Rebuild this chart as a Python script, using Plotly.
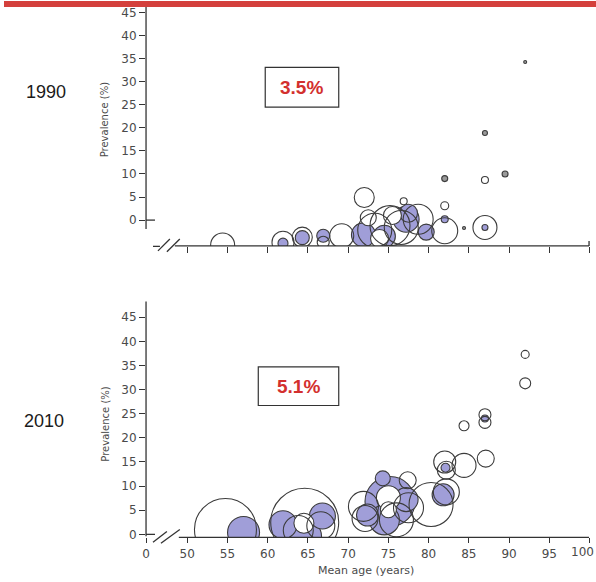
import plotly.graph_objects as go

W, H = 596, 582

# ---------------- data ----------------
# 1990 panel: mean age, prevalence (%), bubble size, group
age_1990 = [54.4, 61.9, 61.9, 64.3, 64.3, 66.9, 66.9, 69.2, 72.0, 71.9, 73.3, 74.5, 73.9,
            75.2, 77.2, 76.6, 78.7, 77.5, 75.5, 72.5, 76.9, 79.7, 82.0, 82.0, 82.0, 82.0,
            84.4, 87.0, 87.0, 87.0, 87.0, 89.5, 92.0]
prev_1990 = [-5.4, -4.8, -5.0, -3.7, -3.8, -3.4, -4.8, -3.4, 4.9, -3.2, -2.2, -3.5, -4.0,
             -1.2, 0.2, -1.6, 0.2, 1.5, 1.0, 0.5, 4.1, -2.6, 9.0, 3.1, 0.2, -2.3,
             -1.7, -1.6, -1.6, 8.7, 18.9, 10.0, 34.3]
size_1990 = [24, 22, 10, 20, 14, 13, 12, 24, 20, 24, 34, 22, 18,
             40, 26, 34, 30, 18, 18, 16, 7, 16, 6, 8, 7, 26,
             3, 24, 6, 7, 5, 6, 3]
group_1990 = ['o', 'o', 'f', 'o', 'f', 'f', 'o', 'o', 'o', 'f', 'o', 'f', 'w',
              'o', 'f', 'o', 'o', 'f', 'w', 'w', 'o', 'f', 'd', 'o', 'f', 'o',
              'd', 'o', 'f', 'o', 'd', 'd', 'd']

# 2010 panel
age_2010 = [54.75, 57.0, 64.6, 61.9, 64.7, 66.8, 64.5, 66.6, 63.8,
            71.9, 72.4, 72.1, 75.2, 74.3, 74.5, 75.0, 75.0, 77.2, 77.4, 76.0, 77.5,
            80.3, 81.8, 82.2, 82.0, 82.2, 82.1, 84.4, 87.1, 84.4, 87.0, 87.0, 87.0,
            92.0, 92.0]
prev_2010 = [1.0, 0.4, 2.5, 2.0, -0.4, 3.8, 2.3, 1.8, 0.8,
             5.8, 4.0, 3.3, 6.8, 11.6, 3.0, 7.6, 5.1, 7.2, 11.2, 3.0, 5.5,
             6.2, 8.2, 8.8, 15.0, 13.3, 13.8, 14.3, 15.7, 22.5, 24.8, 23.2, 24.0,
             31.3, 37.3]
size_2010 = [62, 32, 68, 28, 32, 26, 20, 28, 30,
             30, 22, 26, 50, 15, 30, 24, 16, 24, 17, 34, 30,
             44, 22, 26, 22, 18, 9, 24, 17, 10, 12, 12, 7,
             11, 8]
group_2010 = ['o', 'f', 'o', 'f', 'f', 'f', 'w', 'o', 'o',
              'o', 'f', 'o', 'f', 'f', 'f', 'w', 'w', 'f', 'o', 'o', 'o',
              'o', 'f', 'o', 'o', 'o', 'f', 'o', 'o', 'o', 'o', 'o', 'f',
              'o', 'o']

y_ticks = [0, 5, 10, 15, 20, 25, 30, 35, 40, 45]
x_ticks = [50, 55, 60, 65, 70, 75, 80, 85, 90, 95, 100]
x_zero_pos = 44.88
x_tick_labels = ['0'] + [str(v) for v in x_ticks[:-1]] + ['']

LAV = '#a09ed8'
EDGE = '#3c3c3c'
fill_map = {'f': LAV, 'w': 'white', 'o': 'rgba(255,255,255,0)', 'd': '#9a9a9a'}
rank = {'f': 0, 'w': 1, 'o': 2, 'd': 3}


def ordered(ages, prevs, sizes, groups):
    idx = sorted(range(len(ages)), key=lambda i: (rank[groups[i]], -sizes[i] if groups[i] == 'f' else 0))
    return ([ages[i] for i in idx], [prevs[i] for i in idx],
            [sizes[i] for i in idx], [groups[i] for i in idx])


fig = go.Figure()
for ages, prevs, sizes, groups, xa, ya in [
        (age_1990, prev_1990, size_1990, group_1990, 'x', 'y'),
        (age_2010, prev_2010, size_2010, group_2010, 'x2', 'y2')]:
    a, p, s, g = ordered(ages, prevs, sizes, groups)
    fig.add_trace(go.Scatter(
        x=a, y=p, mode='markers', xaxis=xa, yaxis=ya, cliponaxis=True,
        marker=dict(size=s, sizemode='diameter', color=[fill_map[k] for k in g],
                    line=dict(color=EDGE, width=1.1), opacity=1),
        showlegend=False, hoverinfo='x+y'))


def px(x):
    return x / W


def py(y):
    return 1 - y / H


tickfont = dict(family='DejaVu Sans', size=12, color='#4a4a4a')

fig.update_layout(
    width=W, height=H, margin=dict(l=0, r=0, t=0, b=0),
    paper_bgcolor='white', plot_bgcolor='white',
    xaxis=dict(domain=[px(143), px(590)], range=[x_zero_pos, 100.06], anchor='y',
               tickmode='array', tickvals=x_ticks, showticklabels=False,
               ticks='outside', ticklen=6, tickcolor='#333', tickwidth=1.2,
               showgrid=False, zeroline=False, showline=False),
    yaxis=dict(domain=[py(247), py(6)], range=[-5.59, 46.23], anchor='x',
               tickmode='array', tickvals=y_ticks, tickfont=tickfont,
               ticks='outside', ticklen=6, tickcolor='#333', tickwidth=1.2,
               showgrid=False, zeroline=False, showline=False),
    xaxis2=dict(domain=[px(143), px(590)], range=[x_zero_pos, 100.06], anchor='y2',
                tickmode='array', tickvals=[x_zero_pos] + x_ticks, ticktext=x_tick_labels,
                tickfont=tickfont, ticks='outside', ticklen=5, tickcolor='#333', tickwidth=1.2,
                showgrid=False, zeroline=False, showline=False),
    yaxis2=dict(domain=[py(541), py(303)], range=[-0.62, 48.28], anchor='x2',
                tickmode='array', tickvals=y_ticks, tickfont=tickfont,
                ticks='outside', ticklen=6, tickcolor='#333', tickwidth=1.2,
                showgrid=False, zeroline=False, showline=False),
)

line_style = dict(color='#333333', width=1.3)
shapes = [
    # red band at top
    dict(type='rect', xref='paper', yref='paper', x0=0, x1=1, y0=py(6), y1=1,
         fillcolor='#d4403c', line=dict(width=0)),
    # top panel axis lines
    dict(type='line', xref='paper', yref='paper', x0=px(143), x1=px(143), y0=py(230), y1=py(6), line=line_style),
    dict(type='line', xref='paper', yref='paper', x0=px(143), x1=px(152), y0=py(221), y1=py(221), line=line_style),
    dict(type='line', xref='paper', yref='paper', x0=px(172), x1=px(589), y0=py(247), y1=py(247), line=line_style),
    dict(type='line', xref='paper', yref='paper', x0=px(589), x1=px(589), y0=py(247), y1=py(242), line=line_style),
    dict(type='line', xref='paper', yref='paper', x0=px(150), x1=px(157), y0=py(247.5), y1=py(247.5), line=line_style),
    # top break marks
    dict(type='line', xref='paper', yref='paper', x0=px(155), x1=px(167), y0=py(252), y1=py(240), line=line_style),
    dict(type='line', xref='paper', yref='paper', x0=px(164), x1=px(177), y0=py(253), y1=py(240), line=line_style),
    # bottom panel axis lines
    dict(type='line', xref='paper', yref='paper', x0=px(143), x1=px(143), y0=py(540), y1=py(303), line=line_style),
    dict(type='line', xref='paper', yref='paper', x0=px(143), x1=px(152), y0=py(538), y1=py(538), line=line_style),
    dict(type='line', xref='paper', yref='paper', x0=px(176), x1=px(589), y0=py(541), y1=py(541), line=line_style),
    # bottom break marks
    dict(type='line', xref='paper', yref='paper', x0=px(150), x1=px(164), y0=py(546), y1=py(535), line=line_style),
    dict(type='line', xref='paper', yref='paper', x0=px(158), x1=px(177), y0=py(547), y1=py(533), line=line_style),
    # value boxes
    dict(type='rect', xref='paper', yref='paper', x0=px(263), x1=px(337), y0=py(107), y1=py(67),
         line=dict(color='#333333', width=1.2), fillcolor='white'),
    dict(type='rect', xref='paper', yref='paper', x0=px(256), x1=px(337), y0=py(408), y1=py(369),
         line=dict(color='#333333', width=1.2), fillcolor='white'),
]
fig.update_layout(shapes=shapes)


def note(text, x, y, size, color, family='Liberation Sans, Arial', angle=0, xanchor='center'):
    return dict(text=text, x=px(x), y=py(y), xref='paper', yref='paper', showarrow=False,
                xanchor=xanchor, yanchor='middle', textangle=angle,
                font=dict(family=family, size=size, color=color))


ann = [
    note('1990', 42, 92, 18, '#1a1a1a'),
    note('2010', 40, 424, 18, '#1a1a1a'),
    note('<b>3.5%</b>', 300, 87, 19, '#d3302e'),
    note('<b>5.1%</b>', 296, 389, 19, '#d3302e'),
    note('Prevalence (%)', 102, 120, 10, '#4a4a4a', 'DejaVu Sans', -90),
    note('Prevalence (%)', 102, 427, 10, '#4a4a4a', 'DejaVu Sans', -90),
    note('Mean age (years)', 364, 574, 11, '#4a4a4a', 'DejaVu Sans'),
    note(str(x_ticks[-1]), 596, 556, 12, '#4a4a4a', 'DejaVu Sans', 0, 'right'),
]
fig.update_layout(annotations=ann)

fig.write_html('out.html', config={'displayModeBar': False},
               post_script="document.documentElement.style.overflow='hidden';"
                           "document.body.style.margin='0';document.body.style.overflow='hidden';")
